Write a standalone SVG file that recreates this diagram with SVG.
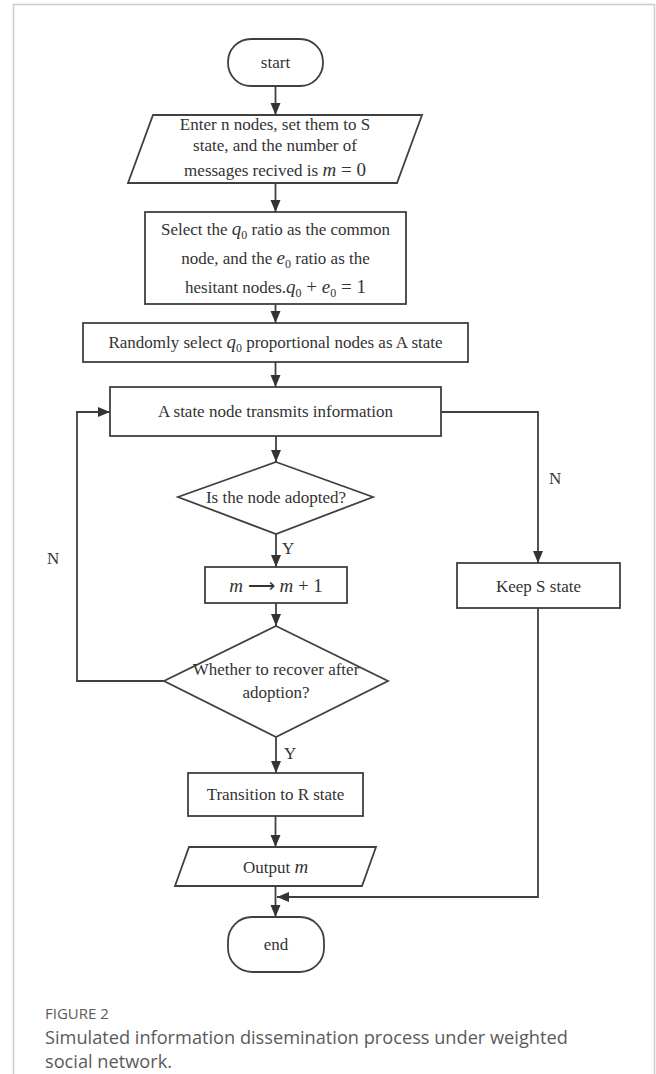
<svg xmlns="http://www.w3.org/2000/svg" width="656" height="1074" viewBox="0 0 656 1074">
<style>
.shape{fill:#fff;stroke:#404040;stroke-width:1.8}
.t{font-family:"Liberation Serif","Times New Roman",serif;font-size:17px;fill:#333;text-anchor:middle}
.m{font-style:italic;font-size:19px}
.sub{font-size:12px}
.lbl{font-family:"Liberation Serif","Times New Roman",serif;font-size:17px;fill:#333}
.conn{fill:none;stroke:#404040;stroke-width:1.8}
.cap{font-family:"Open Sans","Noto Sans",sans-serif;fill:#5a5a5a}
</style>
<defs>
<marker id="arr" markerUnits="userSpaceOnUse" markerWidth="12" markerHeight="12" viewBox="0 0 12 12" refX="12" refY="6" orient="auto">
<path d="M0,1 L12,6 L0,11 Z" fill="#333"/>
</marker>
</defs>
<rect x="13.5" y="4.5" width="641" height="1080" fill="#fff" stroke="#ccc" stroke-width="1.5"/>

<g id="start">
<rect class="shape" x="228" y="39" width="95" height="47" rx="23"/>
<text class="t" x="275.5" y="68">start</text>
</g>
<g id="input">
<polygon class="shape" points="153,115 422,115 397,183 128,183"/>
<text class="t" x="275" y="130">Enter n nodes, set them to S</text>
<text class="t" x="275" y="151">state, and the number of</text>
<text class="t" x="275" y="176">messages recived is <tspan class="m">m</tspan><tspan font-size="19"> = 0</tspan></text>
</g>
<g id="select">
<rect class="shape" x="145" y="212" width="261" height="92"/>
<text class="t" x="275.5" y="235">Select the <tspan class="m">q</tspan><tspan class="sub" dy="4">0</tspan><tspan dy="-4"> ratio as the common</tspan></text>
<text class="t" x="275.5" y="264">node, and the <tspan class="m">e</tspan><tspan class="sub" dy="4">0</tspan><tspan dy="-4"> ratio as the</tspan></text>
<text class="t" x="275.5" y="293">hesitant nodes.<tspan class="m">q</tspan><tspan class="sub" dy="4">0</tspan><tspan dy="-4" font-size="19"> + </tspan><tspan class="m">e</tspan><tspan class="sub" dy="4">0</tspan><tspan dy="-4" font-size="19"> = 1</tspan></text>
</g>
<g id="random">
<rect class="shape" x="83" y="323" width="385" height="39"/>
<text class="t" x="275.5" y="348">Randomly select <tspan class="m">q</tspan><tspan class="sub" dy="4">0</tspan><tspan dy="-4"> proportional nodes as A state</tspan></text>
</g>
<g id="transmit">
<rect class="shape" x="110" y="387" width="331" height="49"/>
<text class="t" x="275.5" y="417">A state node transmits information</text>
</g>
<g id="adopted">
<polygon class="shape" points="276,462 373,497 276,534 178,497"/>
<text class="t" x="276" y="503">Is the node adopted?</text>
</g>
<g id="increment">
<rect class="shape" x="205" y="567" width="142" height="36"/>
<text class="t" x="276" y="592"><tspan class="m">m</tspan><tspan font-size="19"> ⟶ </tspan><tspan class="m">m</tspan><tspan font-size="19"> + 1</tspan></text>
</g>
<g id="recover">
<polygon class="shape" points="276,626 388,681 276,737 164,681"/>
<text class="t" x="276" y="675">Whether to recover after</text>
<text class="t" x="276" y="698">adoption?</text>
</g>
<g id="keep">
<rect class="shape" x="457" y="563" width="163" height="45"/>
<text class="t" x="538.5" y="592">Keep S state</text>
</g>
<g id="transition">
<rect class="shape" x="188" y="773" width="175" height="43"/>
<text class="t" x="275.5" y="800">Transition to R state</text>
</g>
<g id="output">
<polygon class="shape" points="189,847 376,847 362,886 175,886"/>
<text class="t" x="275.5" y="873">Output <tspan class="m">m</tspan></text>
</g>
<g id="end">
<rect class="shape" x="228" y="917" width="96" height="55" rx="24"/>
<text class="t" x="276" y="950">end</text>
</g>

<g id="connectors">
<path class="conn" d="M275.5 86 V115" marker-end="url(#arr)"/>
<path class="conn" d="M275.5 183 V212" marker-end="url(#arr)"/>
<path class="conn" d="M275.5 304 V323" marker-end="url(#arr)"/>
<path class="conn" d="M275.5 362 V387" marker-end="url(#arr)"/>
<path class="conn" d="M276 436 V462" marker-end="url(#arr)"/>
<path class="conn" d="M276 534 V567" marker-end="url(#arr)"/>
<path class="conn" d="M276 603 V626" marker-end="url(#arr)"/>
<path class="conn" d="M276 737 V773" marker-end="url(#arr)"/>
<path class="conn" d="M275.5 816 V847" marker-end="url(#arr)"/>
<path class="conn" d="M275.5 886 V917" marker-end="url(#arr)"/>
<path class="conn" d="M164 681 H77 V412 H110" marker-end="url(#arr)"/>
<path class="conn" d="M441 412 H538 V563" marker-end="url(#arr)"/>
<path class="conn" d="M538 608 V897 H277" marker-end="url(#arr)"/>
<text class="lbl" x="47" y="564">N</text>
<text class="lbl" x="549" y="484">N</text>
<text class="lbl" x="282" y="554">Y</text>
<text class="lbl" x="284" y="759">Y</text>
</g>

<text class="cap" x="45" y="1019" font-size="15">FIGURE 2</text>
<text class="cap" x="45" y="1044" font-size="18.2">Simulated information dissemination process under weighted</text>
<text class="cap" x="45" y="1068" font-size="18.2">social network.</text>
</svg>
